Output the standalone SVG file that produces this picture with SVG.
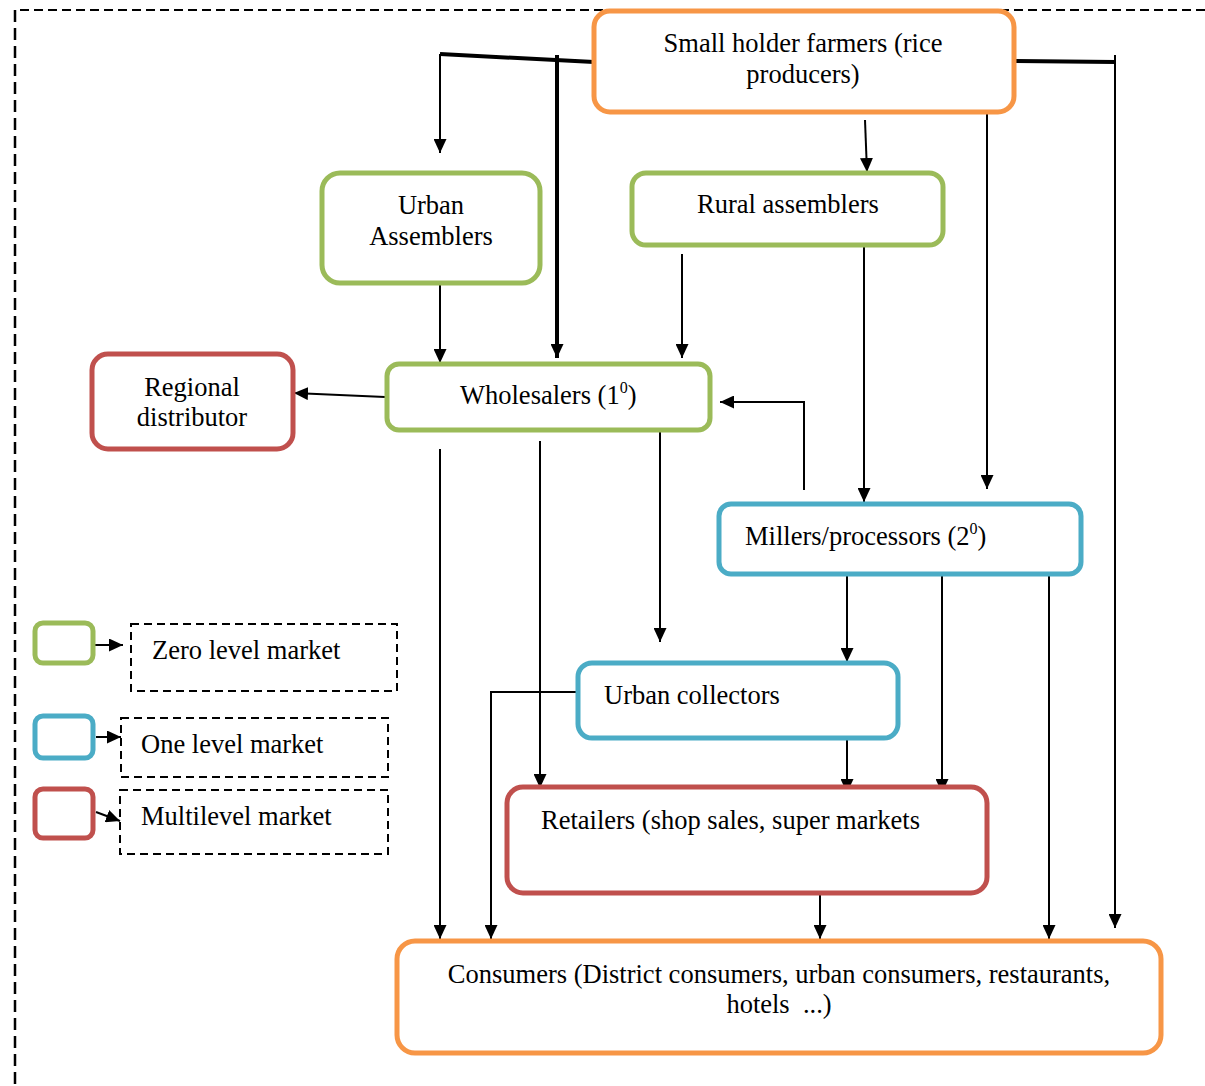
<svg xmlns="http://www.w3.org/2000/svg" width="1205" height="1086" viewBox="0 0 1205 1086">
<style>
.box{fill:#fff;stroke-width:5}
.g{stroke:#9BBB59}.b{stroke:#4BACC6}.r{stroke:#C0504D}.o{stroke:#F79646}
.t{font-family:"Liberation Serif","Times New Roman",serif;font-size:26.5px;fill:#000}
.sup{font-size:16px}
.c{fill:none;stroke:#000;stroke-width:2}
.thick{stroke-width:4}
.dash{fill:none;stroke:#000;stroke-width:2;stroke-dasharray:8 5}
</style>
<defs>
<marker id="ah" markerUnits="userSpaceOnUse" markerWidth="15" markerHeight="13" refX="14" refY="6.5" orient="auto">
<path d="M0,0 L14,6.5 L0,13 Z" fill="#000"/>
</marker>
</defs>
<rect x="0" y="0" width="1205" height="1086" fill="#fff"/>
<path d="M1205,10 H15" fill="none" stroke="#000" stroke-width="2.2" stroke-dasharray="9 5"/>
<path d="M15,10 V1086" fill="none" stroke="#000" stroke-width="2.5" stroke-dasharray="12 6"/>

<g id="connectors">
<path class="c thick" d="M594,62 L440,54"/>
<path class="c" d="M440,54 V153" marker-end="url(#ah)"/>
<path class="c thick" d="M557,55 V358" marker-end="url(#ah)"/>
<path class="c thick" d="M1014,61 L1115,62"/>
<path class="c" d="M1115,55 V928" marker-end="url(#ah)"/>
<path class="c" d="M987,112 V489" marker-end="url(#ah)"/>
<path class="c" d="M865,120 L867,172" marker-end="url(#ah)"/>
<path class="c" d="M440,285 V363" marker-end="url(#ah)"/>
<path class="c" d="M682,254 V358" marker-end="url(#ah)"/>
<path class="c" d="M864,245 V502" marker-end="url(#ah)"/>
<path class="c" d="M385,397 L294,393" marker-end="url(#ah)"/>
<path class="c" d="M804,490 V402 H720" marker-end="url(#ah)"/>
<path class="c" d="M440,449 V939" marker-end="url(#ah)"/>
<path class="c" d="M540,441 V788" marker-end="url(#ah)"/>
<path class="c" d="M660,430 V642" stroke-width="3" marker-end="url(#ah)"/>
<path class="c" d="M847,574 V662" marker-end="url(#ah)"/>
<path class="c" d="M942,574 V793" marker-end="url(#ah)"/>
<path class="c" d="M1049,574 V939" marker-end="url(#ah)"/>
<path class="c" d="M578,692 H491 V939" marker-end="url(#ah)"/>
<path class="c" d="M847,738 V793" marker-end="url(#ah)"/>
<path class="c" d="M820,893 V939" marker-end="url(#ah)"/>
<path class="c" d="M95,645 H123" marker-end="url(#ah)"/>
<path class="c" d="M96,737 H121" marker-end="url(#ah)"/>
<path class="c" d="M96,812 L120,821" marker-end="url(#ah)"/>
</g>

<g id="farmers">
<rect class="box o" x="594" y="11" width="420" height="101" rx="16"/>
<text class="t" x="803" y="52" text-anchor="middle">Small holder farmers (rice</text>
<text class="t" x="803" y="83" text-anchor="middle">producers)</text>
</g>
<g id="urban-assemblers">
<rect class="box g" x="322" y="173" width="218" height="110" rx="18"/>
<text class="t" x="431" y="214" text-anchor="middle">Urban</text>
<text class="t" x="431" y="245" text-anchor="middle">Assemblers</text>
</g>
<g id="rural-assemblers">
<rect class="box g" x="632" y="173" width="311" height="72" rx="14"/>
<text class="t" x="788" y="213" text-anchor="middle">Rural assemblers</text>
</g>
<g id="wholesalers">
<rect class="box g" x="387" y="364" width="323" height="66" rx="12"/>
<text class="t" x="460" y="404">Wholesalers (1<tspan class="sup" dy="-11">0</tspan><tspan dy="11">)</tspan></text>
</g>
<g id="regional-distributor">
<rect class="box r" x="92" y="354" width="201" height="95" rx="16"/>
<text class="t" x="192" y="396" text-anchor="middle">Regional</text>
<text class="t" x="192" y="426" text-anchor="middle">distributor</text>
</g>
<g id="millers">
<rect class="box b" x="719" y="504" width="362" height="70" rx="12"/>
<text class="t" x="745" y="545">Millers/processors (2<tspan class="sup" dy="-11">0</tspan><tspan dy="11">)</tspan></text>
</g>
<g id="urban-collectors">
<rect class="box b" x="578" y="663" width="320" height="75" rx="14"/>
<text class="t" x="604" y="704">Urban collectors</text>
</g>
<g id="retailers">
<rect class="box r" x="507" y="787" width="480" height="106" rx="16"/>
<text class="t" x="541" y="829">Retailers (shop sales, super markets</text>
</g>
<g id="consumers">
<rect class="box o" x="397" y="941" width="764" height="112" rx="18"/>
<text class="t" x="779" y="983" text-anchor="middle">Consumers (District consumers, urban consumers, restaurants,</text>
<text class="t" x="779" y="1013" text-anchor="middle" style="white-space:pre">hotels  ...)</text>
</g>

<g id="legend-zero">
<rect class="box g" x="35" y="623" width="58" height="40" rx="8"/>
<rect class="dash" x="131" y="624" width="266" height="67"/>
<text class="t" x="152" y="659">Zero level market</text>
</g>
<g id="legend-one">
<rect class="box b" x="35" y="716" width="58" height="42" rx="8"/>
<rect class="dash" x="121" y="718" width="267" height="59"/>
<text class="t" x="141" y="753">One level market</text>
</g>
<g id="legend-multi">
<rect class="box r" x="35" y="789" width="58" height="49" rx="8"/>
<rect class="dash" x="120" y="790" width="268" height="64"/>
<text class="t" x="141" y="825">Multilevel market</text>
</g>
</svg>
